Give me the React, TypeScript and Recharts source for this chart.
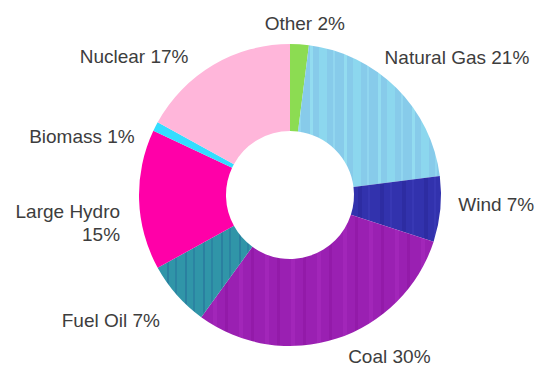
import { PieChart, Pie, Cell } from 'recharts'

// Datos: reparto por fuente (en %), en sentido horario desde las 12
const sources = ['Other', 'Natural Gas', 'Wind', 'Coal', 'Fuel Oil', 'Large Hydro', 'Biomass', 'Nuclear']
const shares = [2, 21, 7, 30, 7, 15, 1, 17]
const COLORS = ['#8cdc52', 'url(#stripeGas)', 'url(#stripeWind)', 'url(#stripeCoal)', 'url(#stripeOil)', '#ff00a8', '#33ddff', '#ffb6da']

const data = sources.map((name, i) => ({ name, value: shares[i] }))

const RAD = Math.PI / 180
const LABEL_R = 172

// ajustes finos de cada etiqueta
const nudge: Record<string, { dx: number; dy: number; anchor?: string; wrap?: boolean }> = {
  'Other': { dx: 4, dy: 0, anchor: 'middle' },
  'Natural Gas': { dx: -27, dy: -16 },
  'Wind': { dx: -3, dy: -7 },
  'Coal': { dx: 5, dy: -2 },
  'Fuel Oil': { dx: -1, dy: 12 },
  'Large Hydro': { dx: 2, dy: 11, wrap: true },
  'Biomass': { dx: -2, dy: 20 },
  'Nuclear': { dx: -14, dy: 10 },
}

const renderLabel = (props: any) => {
  const { cx, cy, midAngle, name, value } = props
  const x0 = cx + LABEL_R * Math.cos(-midAngle * RAD)
  const y0 = cy + LABEL_R * Math.sin(-midAngle * RAD)
  const n = nudge[name] || { dx: 0, dy: 0 }
  const anchor = n.anchor || (x0 >= cx ? 'start' : 'end')
  const x = x0 + n.dx
  const y = y0 + n.dy
  const style = { fontFamily: '"Liberation Sans", Arial, sans-serif', fontSize: 19, fill: '#3d3d3d' }
  if (n.wrap) {
    return (
      <text x={x} y={y} textAnchor={anchor} dominantBaseline="central" style={style}>
        <tspan x={x} dy={0}>{name}</tspan>
        <tspan x={x} dy={23}>{`${value}%`}</tspan>
      </text>
    )
  }
  return (
    <text x={x} y={y} textAnchor={anchor} dominantBaseline="central" style={style}>
      {`${name} ${value}%`}
    </text>
  )
}

// texturas de rayas verticales (como en el original)
function Stripes() {
  return (
    <svg width={0} height={0} style={{ position: 'absolute' }}>
      <defs>
        <pattern id="stripeGas" patternUnits="userSpaceOnUse" width={34} height={10}>
          <rect width={34} height={10} fill="#87cbea" />
          <rect x={4} width={3} height={10} fill="#93dcf0" />
          <rect x={13} width={8} height={10} fill="#8cd7ee" />
          <rect x={27} width={2} height={10} fill="#91d6ef" />
        </pattern>
        <pattern id="stripeWind" patternUnits="userSpaceOnUse" width={22} height={10}>
          <rect width={22} height={10} fill="#3232ad" />
          <rect x={6} width={4} height={10} fill="#2d2ca2" />
          <rect x={16} width={2} height={10} fill="#3838b4" />
        </pattern>
        <pattern id="stripeCoal" patternUnits="userSpaceOnUse" width={26} height={10}>
          <rect width={26} height={10} fill="#9a20b2" />
          <rect x={5} width={4} height={10} fill="#a226b9" />
          <rect x={17} width={3} height={10} fill="#931aa9" />
        </pattern>
        <pattern id="stripeOil" patternUnits="userSpaceOnUse" width={18} height={10}>
          <rect width={18} height={10} fill="#3095a8" />
          <rect x={5} width={2} height={10} fill="#2a80a0" />
          <rect x={13} width={2} height={10} fill="#2b84a2" />
        </pattern>
      </defs>
    </svg>
  )
}

export default function App() {
  return (
    <div style={{ position: 'absolute', left: 0, top: 0, width: 555, height: 367, background: '#fff' }}>
      <Stripes />
      <PieChart width={555} height={367} margin={{ top: 0, right: 0, bottom: 0, left: 0 }}>
        <Pie
          data={data}
          dataKey="value"
          nameKey="name"
          cx={290}
          cy={195}
          innerRadius={64}
          outerRadius={151}
          startAngle={90}
          endAngle={-270}
          stroke="none"
          label={renderLabel}
          labelLine={false}
          isAnimationActive={false}
        >
          {data.map((entry, index) => (
            <Cell key={`cell-${index}`} fill={COLORS[index % COLORS.length]} />
          ))}
        </Pie>
      </PieChart>
    </div>
  )
}
